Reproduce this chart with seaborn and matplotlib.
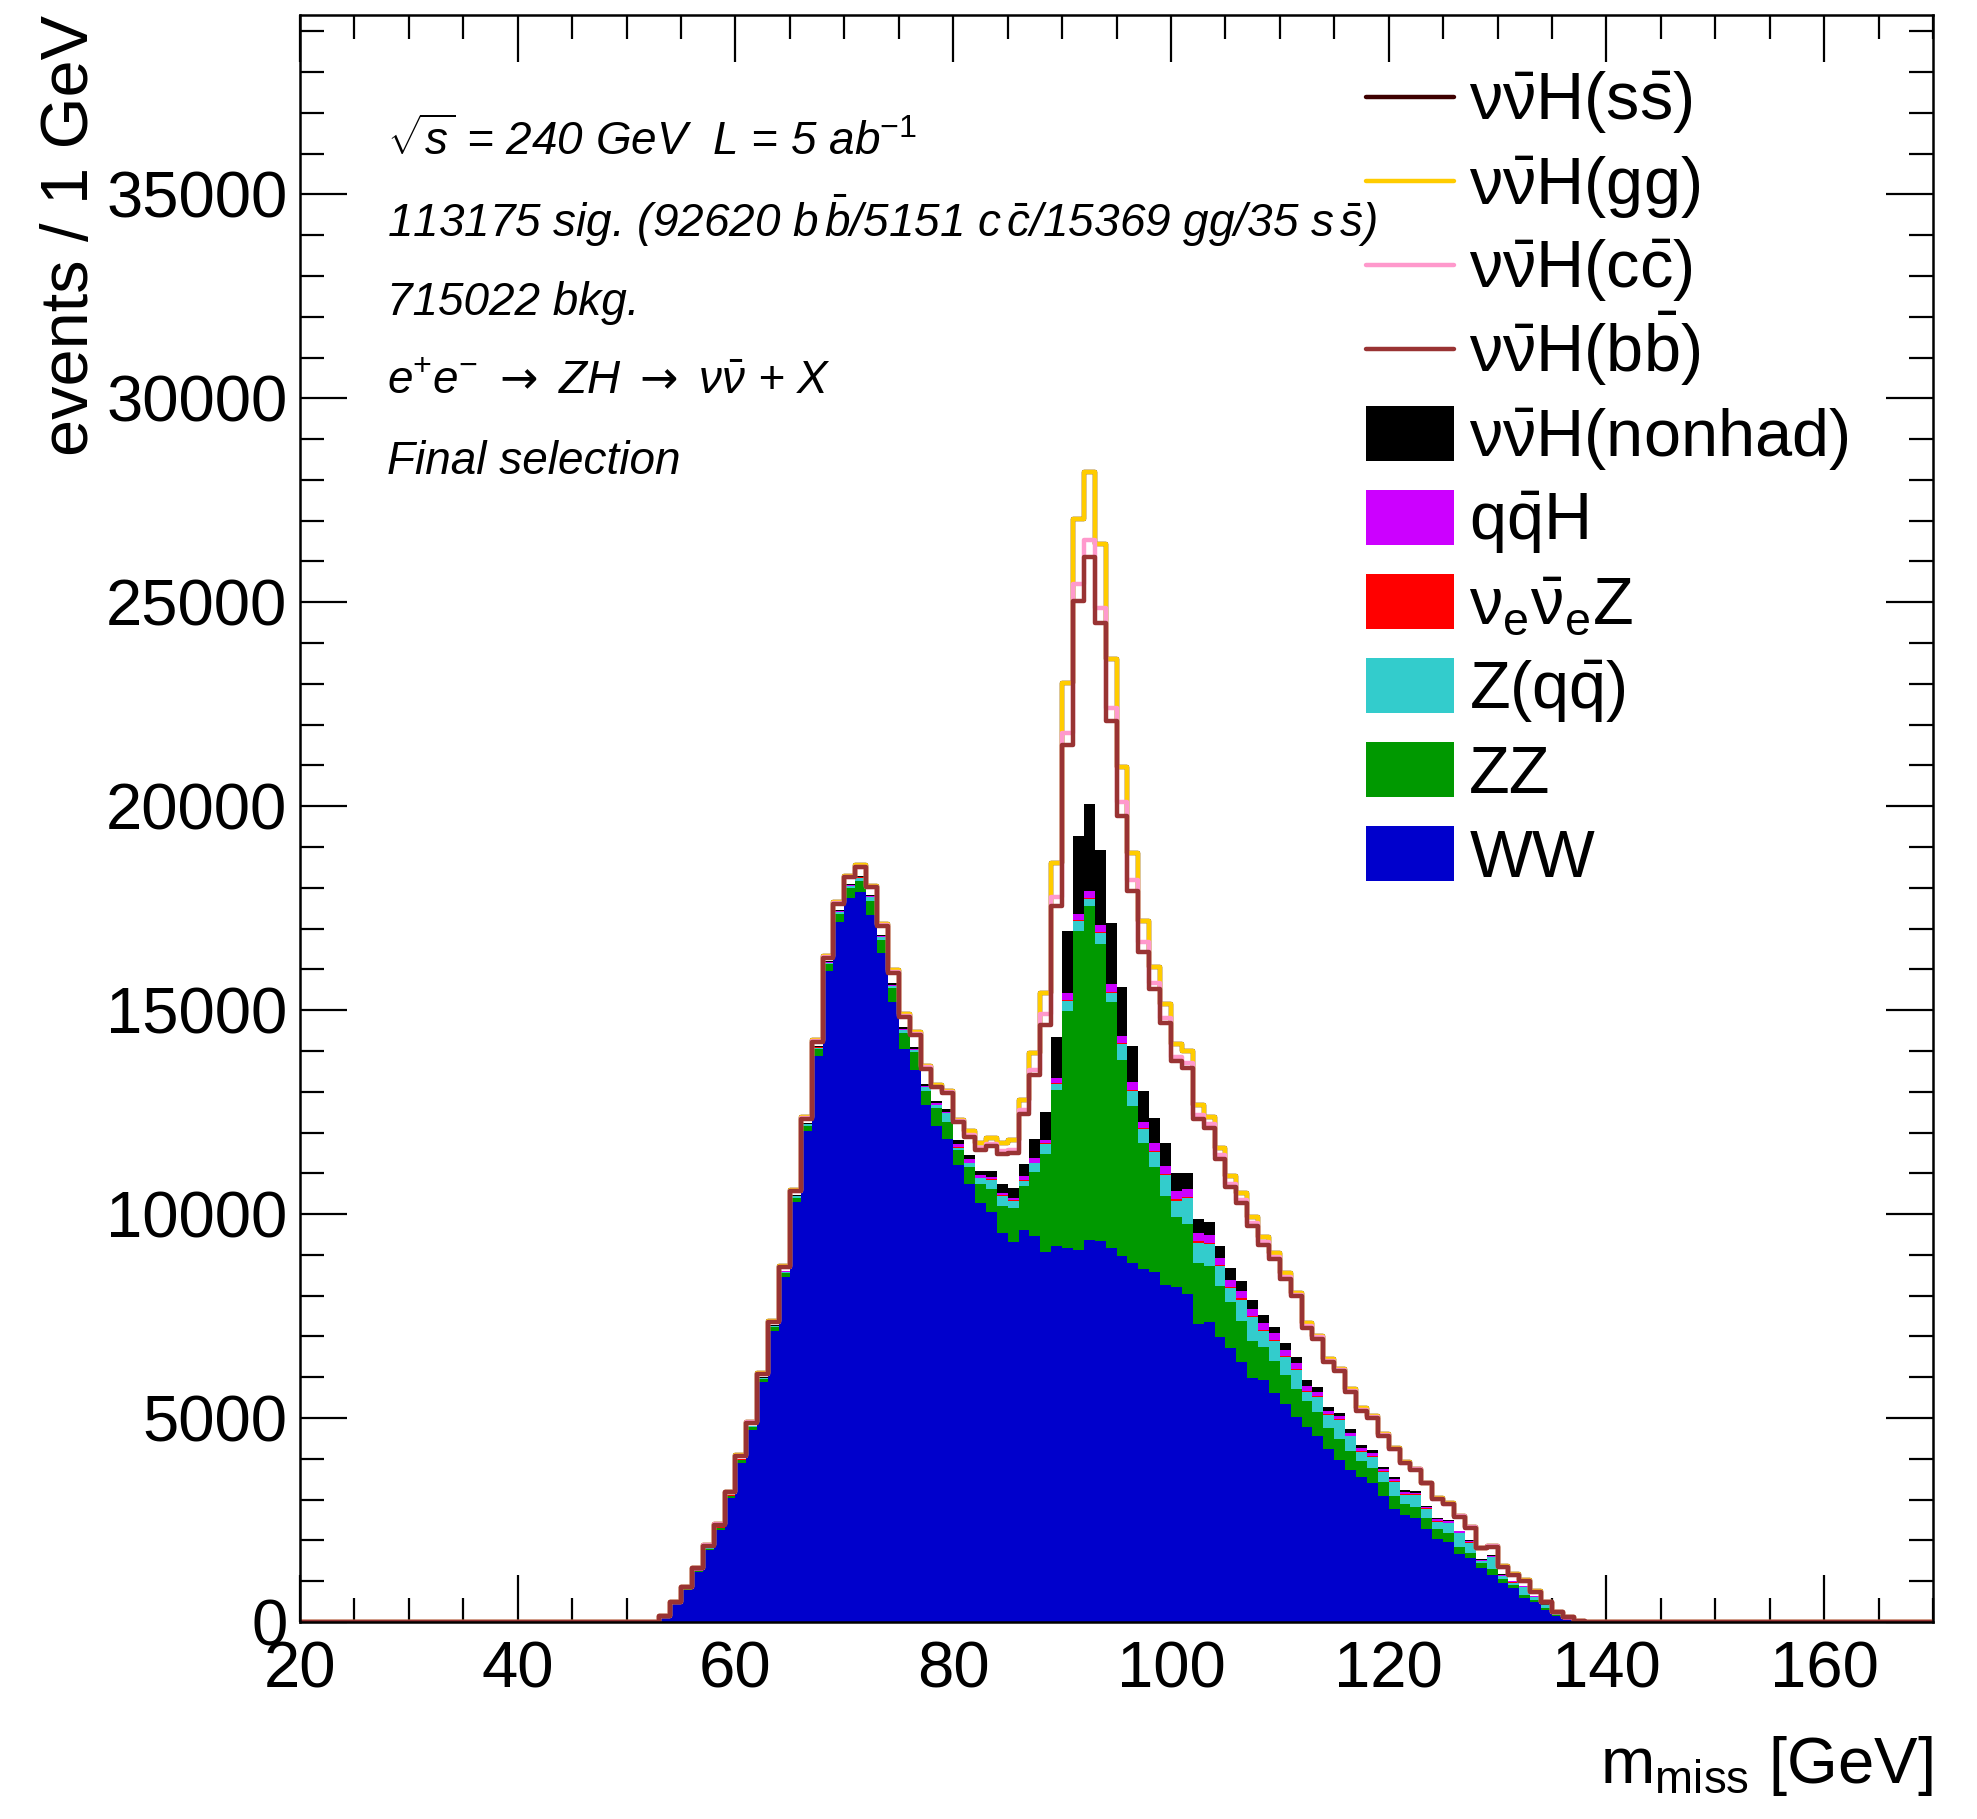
import numpy as np
import pandas as pd
import matplotlib
matplotlib.use("Agg")
import matplotlib.pyplot as plt
import seaborn as sns
from matplotlib.patches import Rectangle
from matplotlib.lines import Line2D
from matplotlib.ticker import MultipleLocator

# ---------------- data (events / 1 GeV, bins 53..137 GeV) ----------------
first_bin = 53
x_lo, x_hi = 20, 170

ww = [110, 430, 785, 1225, 1770, 2265, 3040, 3910, 4710, 5880, 7140, 8460, 10290, 12040, 13880,
      15970, 17160, 17745, 17895, 17325, 16400, 15210,
      14060, 13530, 12680, 12160, 11845, 11200, 10735, 10270, 10050, 9530, 9310, 9620, 9460, 9070,
      9220, 9160, 9125, 9365, 9345, 9160, 8975, 8790, 8660, 8570,
      8270, 8215, 8040, 7300, 7355, 6980, 6725, 6385, 5985, 5925, 5605, 5355, 5035, 4780, 4555, 4235,
      3980, 3730, 3545, 3410, 3090, 2780, 2630,
      2545, 2275, 2035, 1970, 1670, 1560, 1315, 1155, 950, 825, 595, 480, 295, 150, 50, 10]
zz = [5, 15, 20, 25, 30, 35, 45, 55, 65, 75, 85, 95, 110, 130, 160,
      150, 190, 250, 280, 340, 330, 340,
      370, 440, 340, 445, 425, 370, 425, 480, 555, 670, 830, 1075, 1570, 2405,
      3830, 5830, 7810, 8180, 7275, 6035, 4815, 3850, 3090, 2590,
      2175, 1715, 1715, 1510, 1375, 1260, 1120, 1005, 915, 825, 800, 710, 685, 630, 595, 525,
      515, 455, 400, 365, 345, 320, 265,
      270, 270, 245, 205, 180, 140, 120, 140, 95, 80, 65, 60, 40, 20, 5, 0]
zqq = [3, 5, 8, 10, 12, 15, 15, 18, 20, 25, 25, 30, 35, 35, 40,
       40, 60, 50, 75, 100, 60, 40,
       80, 50, 90, 70, 200, 55, 95, 130, 240, 250, 185, 120, 220, 240,
       150, 240, 240, 185, 280, 220, 390, 370, 335, 370,
       515, 400, 630, 490, 535, 490, 345, 515, 570, 375, 490, 435, 455, 230, 375, 310,
       460, 365, 230, 265, 235, 330, 230,
       300, 230, 180, 245, 325, 245, 60, 295, 80, 60, 205, 80, 80, 15, 5, 0]
nuenuez = [0, 1, 1, 2, 2, 3, 3, 3, 4, 4, 5, 5, 6, 6, 7,
           7, 7, 8, 8, 8, 8, 9,
           10, 10, 10, 10, 10, 10, 10, 10, 10, 10, 15, 15, 15, 20,
           20, 25, 25, 25, 25, 25, 25, 25, 25, 25,
           30, 30, 30, 30, 30, 30, 30, 30, 30, 30, 30, 30, 30, 30, 25, 25,
           25, 20, 20, 20, 20, 20, 20,
           15, 15, 15, 15, 15, 15, 10, 10, 10, 10, 5, 5, 5, 2, 1, 0]
qqh = [0, 1, 2, 3, 3, 4, 4, 5, 6, 6, 7, 8, 9, 10, 12,
       13, 15, 15, 17, 17, 17, 20,
       25, 20, 25, 35, 30, 75, 80, 60, 60, 50, 60, 95, 115, 75,
       110, 160, 160, 160, 160, 200, 160, 200, 160, 200,
       200, 200, 200, 200, 200, 170, 170, 170, 170, 170, 150, 150, 145, 110, 90, 80,
       70, 70, 80, 80, 60, 50, 45,
       40, 35, 40, 40, 30, 30, 20, 25, 25, 20, 8, 8, 8, 3, 1, 0]
nonhad = [2, 3, 5, 6, 8, 10, 10, 12, 12, 14, 15, 16, 18, 20, 22,
          25, 25, 25, 25, 30, 30, 40,
          50, 35, 40, 60, 60, 110, 95, 115, 150, 240, 240, 315, 465, 685,
          1015, 1520, 1905, 2130, 1850, 1500, 1200, 890, 740, 610,
          550, 455, 400, 345, 320, 290, 280, 245, 225, 200, 165, 160, 150, 145, 110, 85,
          75, 85, 70, 70, 60, 50, 50,
          30, 30, 25, 15, 20, 20, 15, 20, 15, 10, 5, 5, 5, 5, 2, 0]
hbb = [20, 35, 40, 45, 50, 55, 60, 65, 70, 75, 80, 85, 90, 100, 110,
       85, 150, 160, 205, 190, 225, 260,
       230, 315, 380, 325, 400, 440, 460, 500, 610, 720, 850, 1215, 1575, 2145,
       3200, 4555, 5775, 6055, 5555, 4940, 4200, 3795, 3425, 3145,
       2940, 2745, 2575, 2460, 2285, 2140, 2000, 1920, 1810, 1720, 1660, 1580, 1485, 1280, 1200, 1120,
       1030, 915, 835, 800, 745, 685, 650,
       530, 545, 475, 400, 345, 305, 270, 205, 180, 150, 130, 105, 65, 55, 50, 20]
hcc = [1, 2, 3, 3, 4, 4, 5, 5, 6, 6, 7, 8, 8, 9, 10,
       12, 12, 12, 15, 15, 15, 20,
       30, 25, 30, 20, 20, 20, 40, 50, 50, 70, 80, 90, 110, 260,
       240, 315, 405, 425, 370, 335, 350, 280, 240, 165,
       140, 100, 120, 100, 100, 80, 80, 80, 70, 70, 50, 50, 30, 40, 25, 25,
       25, 30, 25, 20, 20, 15, 15,
       10, 10, 10, 10, 10, 5, 5, 5, 5, 5, 3, 3, 2, 1, 1, 0]
hgg = [3, 5, 6, 8, 10, 12, 12, 14, 15, 16, 18, 20, 22, 24, 26,
       28, 25, 28, 30, 30, 35, 40,
       45, 30, 40, 35, 30, 30, 90, 135, 135, 200, 235, 245, 410, 520,
       815, 1205, 1590, 1665, 1575, 1200, 850, 645, 500, 390,
       320, 300, 280, 245, 185, 185, 185, 170, 160, 135, 90, 90, 50, 75, 35, 35,
       30, 50, 30, 25, 25, 20, 20,
       15, 10, 10, 10, 10, 10, 5, 5, 5, 5, 3, 3, 2, 1, 1, 0]
hss = [0, 0, 0, 0, 0, 0, 0, 0, 0, 0, 0, 0, 0, 0, 0,
       0, 0, 0, 0, 0, 0, 0,
       0, 0, 0, 0, 0, 0, 0, 0, 0, 0, 0, 0, 1, 2,
       3, 4, 5, 6, 5, 4, 3, 2, 0, 0,
       0, 0, 0, 0, 0, 0, 0, 0, 0, 0, 0, 0, 0, 0, 0, 0,
       0, 0, 0, 0, 0, 0, 0,
       0, 0, 0, 0, 0, 0, 0, 0, 0, 0, 0, 0, 0, 0, 0, 0]

labels = [r"$\mathrm{\nu\bar{\nu}}$H(s$\mathrm{\bar{s}}$)",
          r"$\mathrm{\nu\bar{\nu}}$H(gg)",
          r"$\mathrm{\nu\bar{\nu}}$H(c$\mathrm{\bar{c}}$)",
          r"$\mathrm{\nu\bar{\nu}}$H(b$\mathrm{\bar{b}}$)",
          r"$\mathrm{\nu\bar{\nu}}$H(nonhad)",
          r"q$\mathrm{\bar{q}}$H",
          r"$\mathrm{\nu_{e}\bar{\nu}_{e}}$Z",
          r"Z(q$\mathrm{\bar{q}}$)",
          "ZZ",
          "WW"]
colors = ["#3d0000", "#ffcc00", "#ff99cc", "#993333", "#000000",
          "#cc00ff", "#ff0000", "#33cccc", "#009900", "#0000cc"]
is_line = [True, True, True, True, False, False, False, False, False, False]

# ---------------- style ----------------
sns.set_theme(style="ticks")
plt.rcParams['font.family'] = ['Liberation Sans', 'DejaVu Sans']
plt.rcParams['mathtext.fontset'] = 'custom'
plt.rcParams['mathtext.rm'] = 'Liberation Sans'
plt.rcParams['mathtext.it'] = 'Liberation Sans:italic'
plt.rcParams['mathtext.bf'] = 'Liberation Sans:bold'
plt.rcParams['mathtext.sf'] = 'DejaVu Sans'
for key in ['axes.edgecolor', 'text.color', 'axes.labelcolor', 'xtick.color', 'ytick.color']:
    plt.rcParams[key] = 'black'

fig = plt.figure(figsize=(19.77, 18.19), dpi=100)
ax = fig.add_axes([0.1517, 0.1083, 0.8261, 0.8835])

edges = [float(e) for e in range(x_lo, x_hi + 1)]
centers = np.array(edges[:-1]) + 0.5

def full(arr):
    out = np.zeros(len(centers))
    out[first_bin - x_lo:first_bin - x_lo + len(arr)] = arr
    return out

# stacking order bottom -> top
stack = [ww, zz, zqq, nuenuez, qqh, nonhad, hbb, hcc, hgg, hss]
cum = np.cumsum(np.array([full(a) for a in stack]), axis=0)
cum_top_first = cum[::-1]

# draw like ROOT THStack: highest cumulative first
for k in range(len(labels)):
    df = pd.DataFrame({"m": centers, "w": cum_top_first[k]})
    if is_line[k]:
        sns.histplot(data=df, x="m", weights="w", bins=edges, element="step", fill=False,
                     color=colors[k], linewidth=3.2, ax=ax)
    else:
        sns.histplot(data=df, x="m", weights="w", bins=edges, element="step", fill=True,
                     color=colors[k], edgecolor=colors[k], alpha=1.0, linewidth=0.0, ax=ax)

ax.set_xlim(x_lo, x_hi)
ax.set_ylim(0, 39400)
ax.xaxis.set_major_locator(MultipleLocator(20))
ax.xaxis.set_minor_locator(MultipleLocator(5))
ax.yaxis.set_major_locator(MultipleLocator(5000))
ax.yaxis.set_minor_locator(MultipleLocator(1000))
ax.tick_params(axis='both', which='major', direction='in', length=34, width=1.6,
               labelsize=47, pad=9, top=True, right=True, bottom=True, left=True,
               color='black', labelcolor='black')
ax.tick_params(axis='x', which='major', pad=13)
ax.tick_params(axis='both', which='minor', direction='in', length=17, width=1.6,
               top=True, right=True, bottom=True, left=True, color='black')
for s in ax.spines.values():
    s.set_linewidth(1.8)
    s.set_color('black')
ax.grid(False)

ax.set_xlabel(r"m$_{\mathrm{miss}}$ [GeV]", fontsize=47, loc='right', color='black')
ax.xaxis.set_label_coords(1.0, -0.070)
ax.set_ylabel("events / 1 GeV", fontsize=48, loc='top', color='black')
ax.yaxis.set_label_coords(-0.121, 1.0)

# ---------------- annotations ----------------
ann = [r"$\sqrt{s}$ = 240 GeV  L = 5 ab$^{-1}$",
       r"113175 sig. (92620 b$\,\bar{b}$/5151 c$\,\bar{c}$/15369 gg/35 s$\,\bar{s}$)",
       "715022 bkg.",
       r"e$^{+}$e$^{-}$ $\mathsf{\rightarrow}$ ZH $\mathsf{\rightarrow}$ $\nu\bar{\nu}$ + X",
       "Final selection"]
ann_y = [0.9129, 0.8619, 0.8133, 0.7642, 0.7144]
for t, yy in zip(ann, ann_y):
    ax.text(0.0533, yy, t, transform=ax.transAxes, fontsize=33, style='italic',
            ha='left', va='baseline', color='black')

# ---------------- legend (ROOT style, drawn in axes coords) ----------------
ax_h = 1607.0
for i, (lab, col, ln) in enumerate(zip(labels, colors, is_line)):
    yc_px = 97 + i * 84.1
    yc = (1622 - yc_px) / ax_h
    x0, x1 = 0.6528, 0.7067
    if ln:
        ax.add_line(Line2D([x0, x1], [yc, yc], color=col, linewidth=3.2,
                           transform=ax.transAxes, clip_on=False))
    else:
        hh = 55 / ax_h
        ax.add_patch(Rectangle((x0, yc - hh / 2), x1 - x0, hh, facecolor=col,
                               edgecolor='none', transform=ax.transAxes, clip_on=False))
    ax.text(0.7160, (1622 - (yc_px + 23)) / ax_h, lab, transform=ax.transAxes,
            fontsize=48, ha='left', va='baseline', color='black')

fig.savefig("out.png", dpi=100)
